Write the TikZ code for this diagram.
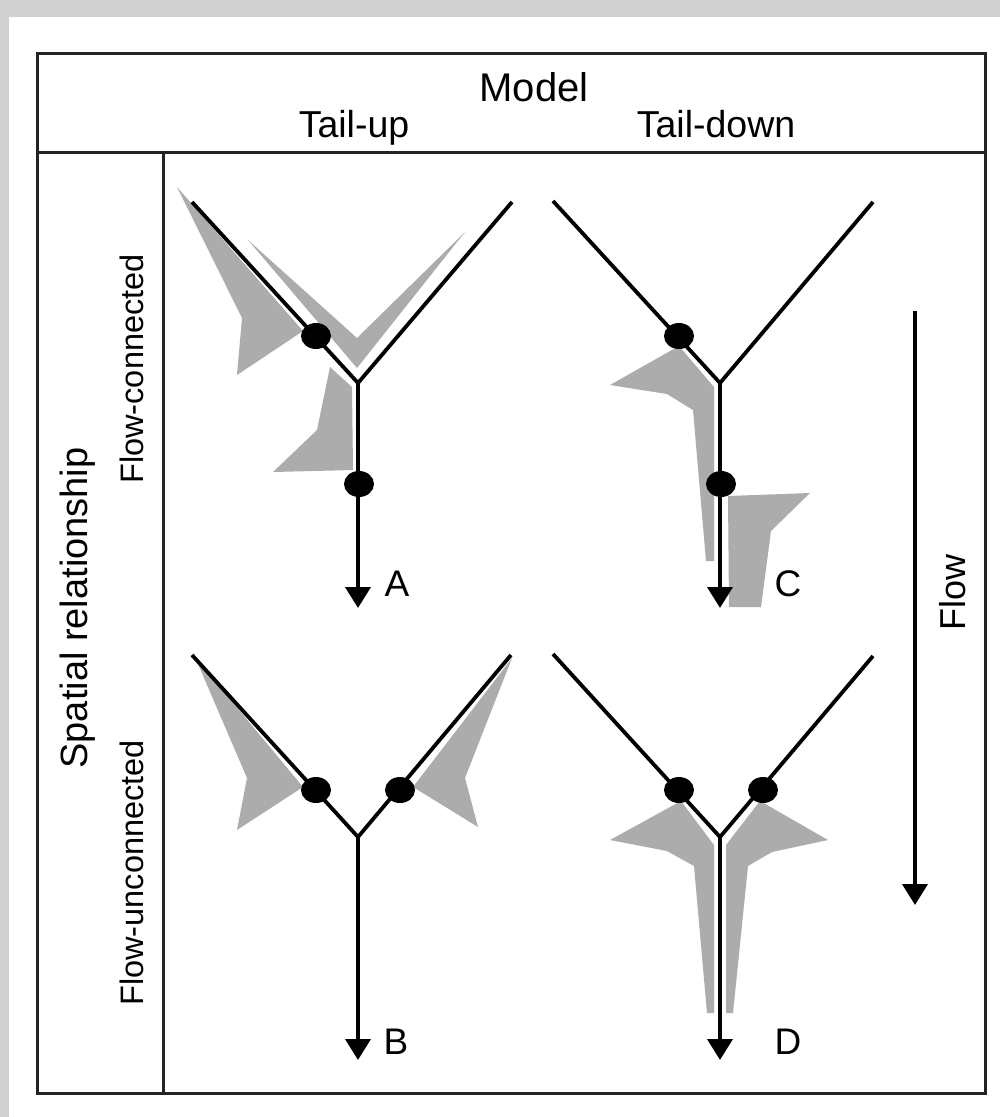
\documentclass[tikz,border=0pt]{standalone}
\usepackage{fontspec}
\setmainfont{Liberation Sans}
\usetikzlibrary{arrows.meta,shapes.geometric}
\definecolor{shadegray}{RGB}{172,172,172}
\definecolor{paperbg}{RGB}{208,208,208}
\definecolor{framecol}{RGB}{35,35,35}
\newcommand{\fsz}[1]{\fontsize{#1}{#1}\selectfont}
\tikzset{
  river/.style={line width=3.8pt, black},
  flowarr/.style={line width=3.9pt, black, -{Triangle[length=21pt,width=25pt]}},
  site/.style={ellipse, fill=black, draw=none, minimum width=30pt, minimum height=26pt, inner sep=0pt},
  shade/.style={fill=shadegray, draw=none},
  frame/.style={line width=3pt, framecol},
  lbl/.style={inner sep=0pt, font=\fsz{37}},
}
\begin{document}
\begin{tikzpicture}[x=1pt,y=-1pt]
\useasboundingbox (0,0) rectangle (1000,1117);
\fill[paperbg] (0,0) rectangle (1000,1117);
\fill[white] (9,17) rectangle (1000,1117);

% frame
\draw[frame] (37,53) rectangle (985,1093);
\draw[frame] (37,152) -- (985,152);
\draw[frame] (163,152) -- (163,1093);

% header
\node[inner sep=0pt, anchor=base, font=\fsz{40}] (model) at (534,101) {Model};
\node[inner sep=0pt, anchor=base, font=\fsz{37.5}] (tup) at (354,137) {Tail-up};
\node[inner sep=0pt, anchor=base, font=\fsz{37.5}] (tdown) at (716,137) {Tail-down};

% row labels
\node[inner sep=0pt, anchor=base, rotate=90, font=\fsz{38}] (spatial) at (87,608) {Spatial relationship};
\node[inner sep=0pt, anchor=base, rotate=90, font=\fsz{32.5}] (fcon) at (143,369) {Flow-connected};
\node[inner sep=0pt, anchor=base, rotate=90, font=\fsz{32.5}] (funcon) at (143,873) {Flow-unconnected};

% flow arrow
\coordinate (fs) at (915,311);
\coordinate (fe) at (915,905);
\draw[flowarr] (fs) -- (fe);
\node[inner sep=0pt, anchor=base, rotate=90, font=\fsz{36}] (flow) at (965,592) {Flow};

% ---------- coordinates of networks ----------
% A
\coordinate (Atl) at (192,202); \coordinate (Atr) at (512,202);
\coordinate (Aj) at (358,383);  \coordinate (Ab) at (358,608);
% C
\coordinate (Ctl) at (553,201); \coordinate (Ctr) at (873,202);
\coordinate (Cj) at (720,383);  \coordinate (Cb) at (720,608);
% B
\coordinate (Btl) at (192,655); \coordinate (Btr) at (511,655);
\coordinate (Bj) at (358,837);  \coordinate (Bb) at (358,1060);
% D
\coordinate (Dtl) at (553,654); \coordinate (Dtr) at (873,656);
\coordinate (Dj) at (720,837);  \coordinate (Db) at (720,1060);

% ---------- gray shading ----------
% A
\fill[shade] (177,187) -- (303,331) -- (237,375) -- (242,318) -- cycle;
\fill[shade] (248,240) -- (357,368) -- (465,232) -- (357,338) -- cycle;
\fill[shade] (330,367) -- (317,430) -- (273,472) -- (353,470) -- (352,387) -- cycle;
% C
\fill[shade] (679,346) -- (610,385) -- (667,394) -- (693,410) -- (706,561) -- (714,561) -- (714,387) -- cycle;
\fill[shade] (728,496) -- (810,493) -- (771,531) -- (761,607) -- (729,607) -- cycle;
% B
\fill[shade] (195,657) -- (247,778) -- (237,830) -- (303,787) -- cycle;
\fill[shade] (512,658) -- (465,778) -- (478,827) -- (413,787) -- cycle;
% D
\fill[shade] (681,801) -- (610,840) -- (667,851) -- (694,866) -- (707,1013) -- (714,1013) -- (714,845) -- cycle;
\fill[shade] (760,801) -- (828,840) -- (772,852) -- (748,866) -- (733,1013) -- (726,1013) -- (726,845) -- cycle;

% ---------- networks ----------
\draw[river] (Atl) -- (Aj) -- (Atr);
\draw[flowarr] (Aj) -- (Ab);
\draw[river] (Ctl) -- (Cj) -- (Ctr);
\draw[flowarr] (Cj) -- (Cb);
\draw[river] (Btl) -- (Bj) -- (Btr);
\draw[flowarr] (Bj) -- (Bb);
\draw[river] (Dtl) -- (Dj) -- (Dtr);
\draw[flowarr] (Dj) -- (Db);

% sites
\node[site] (a1) at (316,336) {};
\node[site] (a2) at (359,484) {};
\node[site] (c1) at (679,336) {};
\node[site] (c2) at (721,484) {};
\node[site] (b1) at (316,790) {};
\node[site] (b2) at (400,790) {};
\node[site] (d1) at (679,790) {};
\node[site] (d2) at (763,790) {};

% panel labels
\node[lbl] (la) at (397,584) {A};
\node[lbl] (lc) at (788,584) {C};
\node[lbl] (lb) at (396,1042) {B};
\node[lbl] (ld) at (788,1042) {D};
\end{tikzpicture}
\end{document}
